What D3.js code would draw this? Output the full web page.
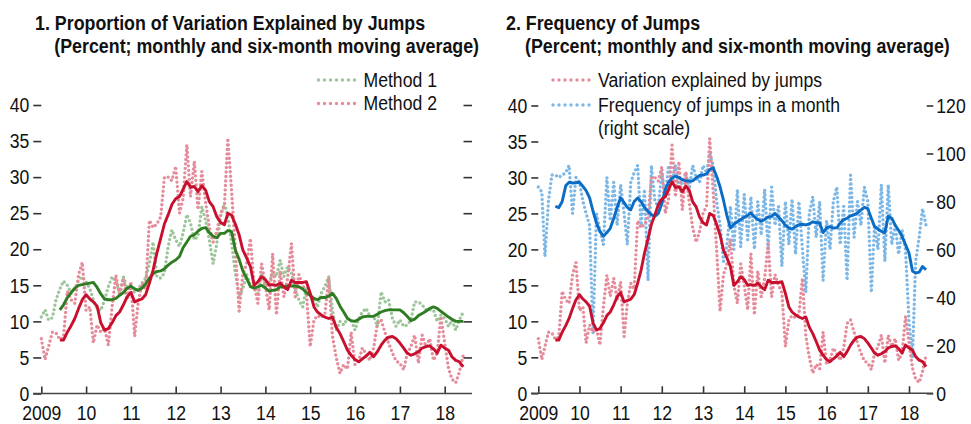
<!DOCTYPE html>
<html><head><meta charset="utf-8">
<script src="https://cdn.jsdelivr.net/npm/d3@7/dist/d3.min.js"></script>
<style>
html,body{margin:0;padding:0;background:#fff;}
svg{display:block;}
</style></head>
<body>
<svg id="chart" width="971" height="424"></svg>
<script>
// ---------------- DATA ----------------
const startYear = 2009, nMonths = 114;
const xTickYears = [2009,2010,2011,2012,2013,2014,2015,2016,2017,2018];
const xTickLabels = ["2009","10","11","12","13","14","15","16","17","18"];
const yLeftTicks = [0,5,10,15,20,25,30,35,40];
const yRightTicks = [0,20,40,60,80,100,120];

const titles1 = ["1. Proportion of Variation Explained by Jumps","(Percent; monthly and six-month moving average)"];
const titles2 = ["2. Frequency of Jumps","(Percent; monthly and six-month moving average)"];
const legend1 = ["Method 1","Method 2"];
const legend2 = ["Variation explained by jumps","Frequency of jumps in a month","(right scale)"];

// Method 1 monthly (green dots)
const method1 = [
10.6,11.6,10.2,10.5,13.0,14.5,15.6,15.0,13.9,14.5,15.7,16.2,
15.5,14.5,13.0,11.7,11.5,13.0,14.8,16.2,15.5,14.0,16.2,14.5,
14.8,14.0,14.5,15.3,16.0,18.0,21.0,16.2,16.0,16.7,20.4,22.7,
21.3,20.4,22.2,24.8,23.6,21.3,21.8,25.9,24.0,21.3,18.0,20.8,
24.5,26.4,24.5,20.8,16.7,13.5,14.5,16.5,15.0,14.8,13.9,16.7,
14.8,15.5,16.7,16.2,18.5,16.2,17.6,16.7,14.4,13.0,12.0,14.8,
13.5,13.0,12.0,13.9,14.8,16.2,11.6,8.8,10.0,9.5,10.4,10.2,
8.8,10.4,11.3,11.8,10.7,10.7,9.3,14.1,12.7,13.0,10.4,9.3,
10.2,9.3,9.5,10.2,12.7,12.7,12.3,11.6,11.6,11.6,10.0,10.9,
10.4,9.3,10.2,8.8,10.2,11.3];
// Method 1 six-month moving average (green line)
const method1MA = [null,null,null,null,null,
11.6,12.3,13.3,14.0,14.6,15.0,15.1,
15.2,15.3,15.4,14.7,13.8,13.1,13.0,13.0,13.2,13.6,14.0,14.6,
14.9,14.5,14.3,14.6,15.2,16.0,16.6,16.9,17.0,17.3,17.8,18.2,
18.5,19.0,20.2,21.0,21.8,22.0,22.5,22.9,23.0,22.3,21.8,21.6,
22.2,22.2,22.6,22.4,19.9,18.6,17.0,16.0,14.8,14.6,14.8,15.0,
14.6,14.2,14.3,14.4,14.8,14.8,14.9,14.9,14.9,14.8,14.5,14.0,
13.6,13.2,13.0,13.3,13.3,13.5,13.9,13.2,12.1,11.3,10.4,10.1,
10.0,10.3,10.6,10.7,10.7,10.7,11.0,11.3,11.5,11.6,11.6,11.6,
11.6,11.2,10.7,10.1,10.3,10.8,11.1,11.4,11.8,12.0,11.8,11.4,
11.0,10.6,10.3,10.0,10.0,10.0];
// Method 2 monthly (pink dots) = variation explained by jumps
const method2 = [
7.6,4.7,6.5,8.5,8.4,7.5,7.8,14.2,13.0,12.5,16.5,18.2,
11.5,12.0,7.0,9.5,8.5,9.0,6.7,12.0,16.4,13.5,16.0,13.0,
15.5,7.9,12.5,15.3,14.5,24.0,23.0,23.5,24.5,30.0,30.0,29.5,
31.5,25.0,27.0,34.5,27.3,32.2,25.5,30.8,26.5,23.0,21.0,22.5,
25.0,26.0,35.4,28.0,20.0,11.4,16.5,18.0,21.5,15.0,12.5,18.0,
15.0,11.6,19.4,10.9,17.0,13.4,16.0,20.8,13.4,16.5,15.0,14.0,
6.5,10.2,10.8,10.5,11.0,16.0,8.0,5.0,2.8,4.0,3.4,8.5,
4.0,4.6,6.3,5.5,4.6,6.3,9.7,10.2,8.5,7.0,5.6,4.5,
4.2,3.3,5.5,6.5,8.1,4.2,8.1,6.5,7.6,4.6,5.6,10.7,
7.0,3.5,2.0,1.5,3.0,5.3];
// Method 2 six-month moving average (red line)
const method2MA = [null,null,null,null,null,
7.4,7.4,8.5,9.4,10.4,11.8,13.0,
13.7,13.1,12.7,12.1,9.8,8.8,9.0,9.8,10.8,11.3,12.3,13.4,
14.0,12.7,12.9,13.1,13.7,15.3,17.1,19.5,21.5,23.5,24.8,26.2,
27.0,27.3,28.3,29.4,28.6,28.7,28.0,28.8,28.2,26.6,25.9,24.5,
23.7,23.4,25.0,24.7,23.5,22.0,19.9,18.8,17.6,15.0,15.5,16.2,
15.8,15.0,15.1,15.0,15.3,14.8,14.4,15.7,15.4,15.4,15.4,15.5,
13.9,12.0,11.3,10.9,10.6,10.4,10.6,9.2,8.3,7.2,6.0,5.3,
4.7,4.4,4.8,5.2,5.7,5.1,5.8,6.7,7.4,7.8,7.9,7.6,
7.0,6.3,5.6,5.3,5.5,5.8,6.3,6.5,6.6,6.2,5.6,6.7,
6.3,6.0,5.1,4.6,4.4,3.7];
// Frequency of jumps in a month (blue dots, right scale)
const frequency = [
86,84,57,80,91,91,90,91,92,95,75,90,
88,80,75,70,25,75,68,62,90,72,88,70,
87,75,62,88,92,95,70,85,47,95,80,78,
92,82,95,88,95,86,88,92,85,95,90,88,
95,92,100,95,80,70,55,62,78,60,85,61,
83,64,82,60,80,66,85,60,86,70,78,53,
80,62,81,58,80,60,42,75,82,65,80,47,
72,60,80,86,62,78,47,91,65,80,70,86,
80,42,70,60,87,55,87,62,70,58,68,60,
30,15,55,65,77,70];
// Frequency six-month moving average (blue line)
const frequencyMA = [null,null,null,null,null,
78,77.4,80,86.5,88,87.7,87.8,
88,86.3,84.5,81.5,76,71,67.5,65.5,67,68.8,73,77.5,
81.5,79.5,77.5,76.5,80,81.4,80,77.5,75.8,74.5,73.8,75,
79,85,88,89.8,90.5,90,89,88.6,88.5,88.6,89.8,90.8,
91,91.5,93.3,94,90.5,86,80.5,74,68.9,70.5,71.5,72.4,
73.4,74.2,75.2,73.6,72.5,71.7,72.5,73.5,73.8,75,73.5,72,
70,68.9,68.5,69.5,70.3,70.5,70.2,70.6,71.5,71.2,71,67,
69,69.5,68.9,69,71,72.4,73,74,74.5,75.2,76.5,77.5,
77,73,69.6,68.5,67.5,67,73.8,73,70,68,65.4,62,
58.5,51,50.1,50.5,52.9,51.5];

// ---------------- STYLE ----------------
const FONT = '"Liberation Sans",Arial,"Helvetica",sans-serif';
const FS = 21;          // font size of axis / legend text
const NARROW = 0.84;    // horizontal condensing of text
const C = {
  pinkDot: "#e58c9b", greenDot: "#9cc59a", blueDot: "#7db7e6",
  red: "#c8102e", green: "#2f7d22", blue: "#0a6cc4", axis: "#333"
};
const svg = d3.select("#chart");
const months = d3.range(nMonths).map(i => new Date(startYear, i, 1));
const tickDates = xTickYears.map(y => new Date(y, 0, 1));

// condense text horizontally with a transform (keeps its anchor point)
function narrow(sel, k) {
  sel.each(function() {
    const s = d3.select(this);
    const x = +(s.attr("x") || 0);
    s.attr("x", x / k).attr("transform", `scale(${k},1)`);
  });
}

function dotted(g, data, x, y, color) {
  g.append("path")
    .datum(data.map((v, i) => [months[i], v]))
    .attr("fill", "none").attr("stroke", color).attr("stroke-width", 3.4)
    .attr("stroke-linecap", "round").attr("stroke-dasharray", "0 4.5")
    .attr("d", d3.line().x(d => x(d[0])).y(d => y(d[1])));
}
function solid(g, data, x, y, color) {
  g.append("path")
    .datum(data.map((v, i) => [months[i], v]))
    .attr("fill", "none").attr("stroke", color).attr("stroke-width", 2.9)
    .attr("stroke-linejoin", "round")
    .attr("d", d3.line().defined(d => d[1] != null).x(d => x(d[0])).y(d => y(d[1])));
}
function styleAxis(g) {
  g.select(".domain").remove();
  g.selectAll(".tick line").attr("stroke", C.axis).attr("stroke-width", 1.6);
  const t = g.selectAll(".tick text").attr("fill", "#111").attr("font-family", FONT).attr("font-size", FS);
  narrow(t, NARROW);
}
function title(lines, x1, x2) {
  const a = svg.append("text").attr("x", x1).attr("y", 30).attr("font-family", FONT).attr("font-weight", "bold")
    .attr("font-size", FS).attr("fill", "#111").text(lines[0]);
  const b = svg.append("text").attr("x", x2).attr("y", 53).attr("font-family", FONT).attr("font-weight", "bold")
    .attr("font-size", FS).attr("fill", "#111").text(lines[1]);
  const k = 425 / b.node().getComputedTextLength();
  narrow(a, k); narrow(b, k);
}
function legendText(x, y, label) {
  const t = svg.append("text").attr("x", x).attr("y", y).attr("font-family", FONT)
    .attr("font-size", FS).attr("fill", "#111").text(label);
  narrow(t, NARROW);
}
function legendItem(x0, x1, yLine, yText, color, label) {
  svg.append("line").attr("x1", x0).attr("x2", x1).attr("y1", yLine).attr("y2", yLine)
    .attr("stroke", color).attr("stroke-width", 3.4).attr("stroke-linecap", "round")
    .attr("stroke-dasharray", "0 6");
  legendText(x1 + 8, yText, label);
}
function xAxis(x, x0, x1, y0) {
  const g = svg.append("g").attr("transform", `translate(0,${y0})`)
    .call(d3.axisBottom(x).tickValues(tickDates).tickFormat((d, i) => xTickLabels[i])
      .tickSize(-7).tickSizeOuter(0).tickPadding(11.5));
  styleAxis(g);
  svg.append("line").attr("x1", x0).attr("x2", x1).attr("y1", y0).attr("y2", y0)
    .attr("stroke", "#444").attr("stroke-width", 1.6);
}

// ---------------- PANEL 1 ----------------
{
  const x = d3.scaleTime().domain([tickDates[0], tickDates[9]]).range([41.3, 444.7]);
  const y = d3.scaleLinear().domain([0, 40]).range([393.5, 105]);
  const g = svg.append("g");
  dotted(g, method1, x, y, C.greenDot);
  dotted(g, method2, x, y, C.pinkDot);
  solid(g, method1MA, x, y, C.green);
  solid(g, method2MA, x, y, C.red);
  const ga = svg.append("g").attr("transform", "translate(41.3,0)")
    .call(d3.axisLeft(y).tickValues(yLeftTicks).tickSize(8).tickPadding(4));
  styleAxis(ga);
  const gr = svg.append("g").attr("transform", "translate(463.5,0)")
    .call(d3.axisRight(y).tickValues(yLeftTicks.filter(v => v > 0)).tickSize(8.5).tickFormat(""));
  styleAxis(gr);
  xAxis(x, 33, 472, 393.5);
  title(titles1, 35, 54.3);
  legendItem(318.5, 355.5, 80, 87, C.greenDot, legend1[0]);
  legendItem(318.5, 355.5, 103.5, 110.5, C.pinkDot, legend1[1]);
}

// ---------------- PANEL 2 ----------------
{
  const x = d3.scaleTime().domain([tickDates[0], tickDates[9]]).range([538.3, 909]);
  const y = d3.scaleLinear().domain([0, 40]).range([393.3, 105.5]);
  const yR = d3.scaleLinear().domain([0, 120]).range([393.3, 105.5]);
  const g = svg.append("g");
  dotted(g, frequency, x, yR, C.blueDot);
  dotted(g, method2, x, y, C.pinkDot);
  solid(g, frequencyMA, x, yR, C.blue);
  solid(g, method2MA, x, y, C.red);
  const ga = svg.append("g").attr("transform", "translate(538.3,0)")
    .call(d3.axisLeft(y).tickValues(yLeftTicks).tickSize(7).tickPadding(4));
  styleAxis(ga);
  const gr = svg.append("g").attr("transform", "translate(926.7,0)")
    .call(d3.axisRight(yR).tickValues(yRightTicks).tickSize(6.6).tickPadding(3));
  styleAxis(gr);
  xAxis(x, 531, 933, 393.3);
  title(titles2, 506, 525);
  legendItem(553, 590, 80, 87, C.pinkDot, legend2[0]);
  legendItem(553, 590, 105, 112, C.blueDot, legend2[1]);
  legendText(598, 135.5, legend2[2]);
}
</script>
</body></html>
